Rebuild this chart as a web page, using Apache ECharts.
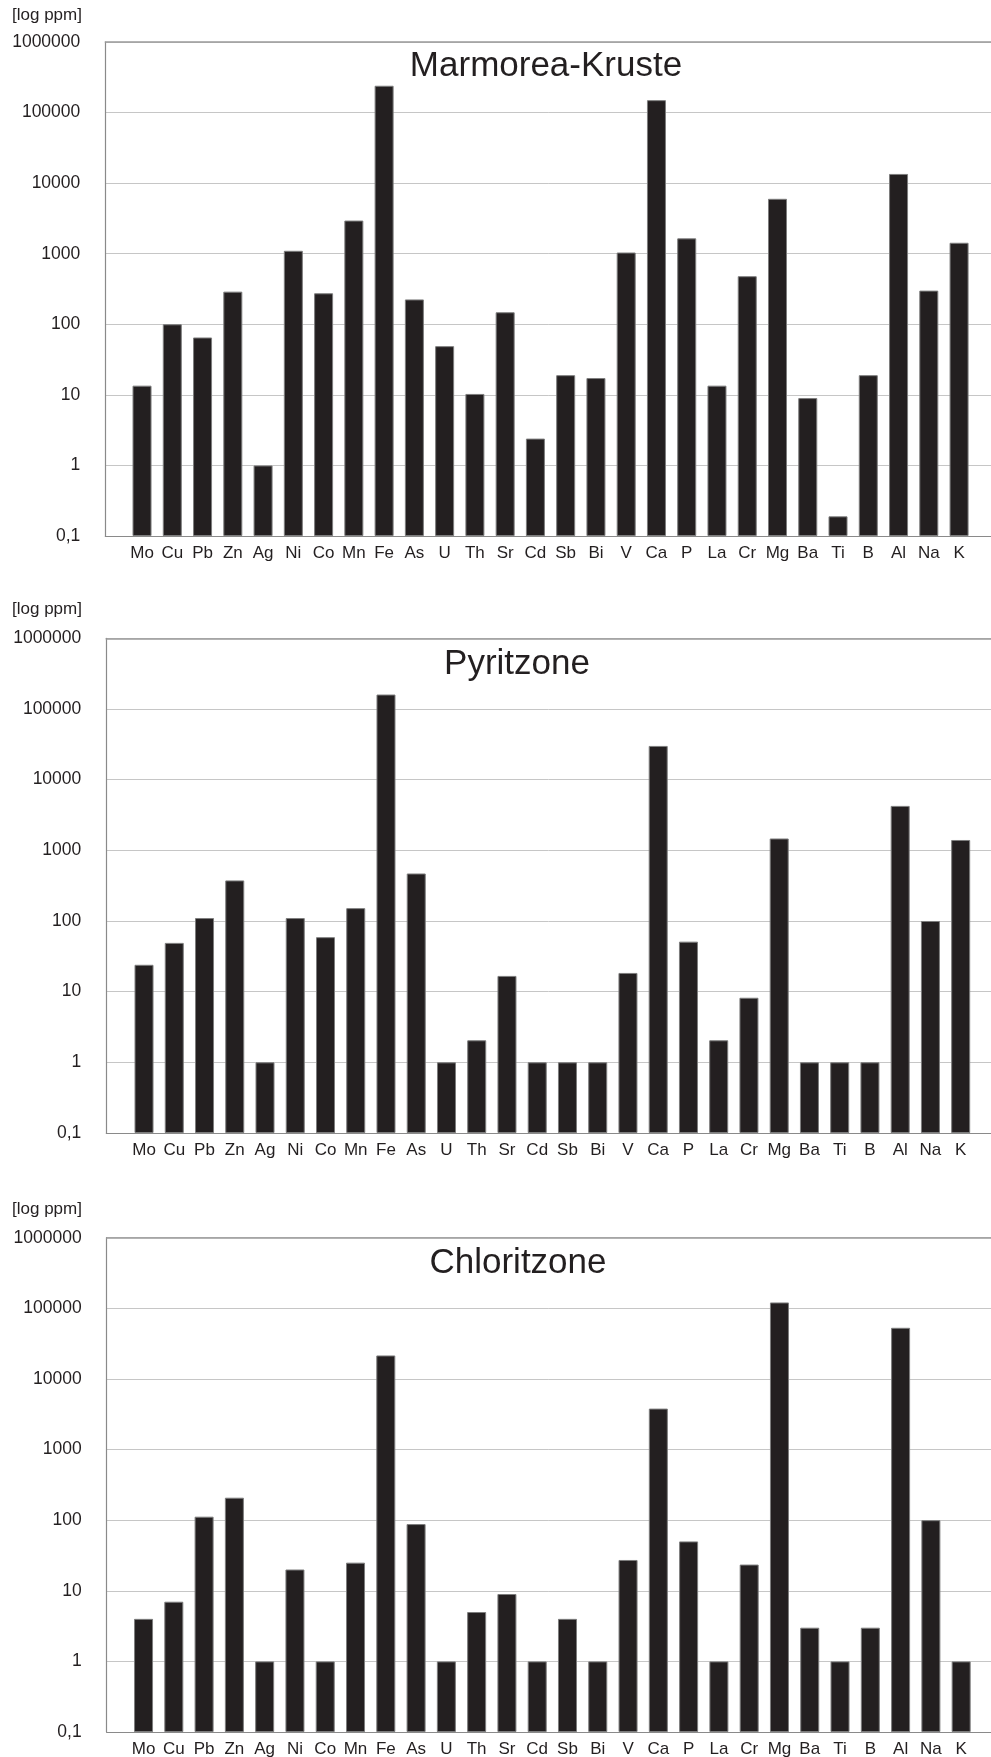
<!DOCTYPE html>
<html>
<head>
<meta charset="utf-8">
<script src="https://cdn.jsdelivr.net/npm/echarts@6/dist/echarts.min.js"></script>
<style>
html,body{margin:0;padding:0;background:#ffffff;}
#c{width:991px;height:1757px;}
</style>
</head>
<body>
<div id="c"></div>
<script>
// ---- data ----
const categories = ['Mo','Cu','Pb','Zn','Ag','Ni','Co','Mn','Fe','As','U','Th','Sr','Cd','Sb','Bi','V','Ca','P','La','Cr','Mg','Ba','Ti','B','Al','Na','K'];
const titles = ['Marmorea-Kruste','Pyritzone','Chloritzone'];
const marmoreaValues = [13.5,100,65,290,1,1100,275,2950,240000,225,49,10.3,148,2.4,19,17.3,1040,150000,1650,13.5,480,6000,9,0.19,19,13500,300,1430];
const pyritValues    = [24,49,110,375,1,110,59,152,160000,470,1,2.05,16.7,1,1,1,18.4,30000,51,2.05,8.2,1470,1,1,1,4250,100,1400];
const chloritValues  = [4,7,112,208,1,20,1,25,21500,88,1,5,9,1,4,1,27.3,3800,50,1,23.5,121000,3,1,3,53000,100,1];
const yTickLabels = ['0,1','1','10','100','1000','10000','100000','1000000'];
const yUnit = '[log ppm]';
const yMin = 0.1, yMax = 1000000;

// ---- layout / style ----
const FONT = '"Liberation Sans", Arial, Helvetica, sans-serif';
const INK = '#231f20';
const W = 991, H = 1757;
const panels = [
  {top:42,    bottom:536,  axisX:105.3, bandL:126.9, bandR:974.2, titleX:546, titleY:66.2, unitY:15,   values:marmoreaValues},
  {top:638.3, bottom:1133, axisX:106.3, bandL:128.9, bandR:975.8, titleX:517, titleY:664.6, unitY:609, values:pyritValues},
  {top:1237.7,bottom:1732, axisX:106.7, bandL:128.4, bandR:976.3, titleX:518, titleY:1263, unitY:1209, values:chloritValues}
];

const grid = [], xAxis = [], yAxis = [], series = [], graphic = [];
panels.forEach((p, i) => {
  const h = p.bottom - p.top;
  grid.push({left:p.axisX, right:0, top:p.top, height:h, outerBoundsMode:'none', containLabel:false});
  grid.push({left:p.bandL, right:W - p.bandR, top:p.top, height:h, outerBoundsMode:'none', containLabel:false});
  // background axes
  xAxis.push({gridIndex:2*i, type:'value', min:0, max:1, position:'bottom',
    axisLine:{show:true, lineStyle:{color:'#8a8a8a', width:1.2}},
    axisTick:{show:false}, axisLabel:{show:false}, splitLine:{show:false}});
  xAxis.push({gridIndex:2*i, type:'value', min:0, max:1, position:'top',
    axisLine:{show:true, lineStyle:{color:'#9a9a9a', width:1.5}},
    axisTick:{show:false}, axisLabel:{show:false}, splitLine:{show:false}});
  xAxis.push({gridIndex:2*i+1, type:'category', data:categories, boundaryGap:true,
    axisLine:{show:false}, axisTick:{show:false},
    axisLabel:{interval:0, fontSize:17, color:INK, fontFamily:FONT, margin:8.5},
    splitLine:{show:false}});
  yAxis.push({gridIndex:2*i, type:'log', logBase:10, min:yMin, max:yMax,
    axisLine:{show:true, lineStyle:{color:'#8a8a8a', width:1.2}},
    axisTick:{show:false},
    axisLabel:{fontSize:17.5, color:INK, fontFamily:FONT, margin:25, padding:[4,0,0,0],
      formatter:(v) => yTickLabels[Math.round(Math.log10(v)) + 1] || ''},
    splitLine:{show:true, lineStyle:{color:'#c6c6c6', width:1}}});
  yAxis.push({gridIndex:2*i+1, type:'log', logBase:10, min:yMin, max:yMax, startValue:yMin, show:false,
    splitLine:{show:false}});
  series.push({type:'bar', xAxisIndex:3*i+2, yAxisIndex:2*i+1, data:p.values, barWidth:19,
    itemStyle:{color:INK, borderColor:'#7d7d7d', borderWidth:1}, silent:true});
  graphic.push({type:'text', x:p.titleX, y:p.titleY, silent:true,
    style:{text:titles[i], font:'35px ' + FONT, fill:INK, textAlign:'center', textVerticalAlign:'middle'}});
  graphic.push({type:'text', x:12, y:p.unitY, silent:true,
    style:{text:yUnit, font:'17px ' + FONT, fill:INK, textAlign:'left', textVerticalAlign:'middle'}});
});

const chart = echarts.init(document.getElementById('c'), null, {renderer:'canvas', width:W, height:H});
chart.setOption({
  animation:false,
  backgroundColor:'#ffffff',
  grid, xAxis, yAxis, series, graphic
});
</script>
</body>
</html>
